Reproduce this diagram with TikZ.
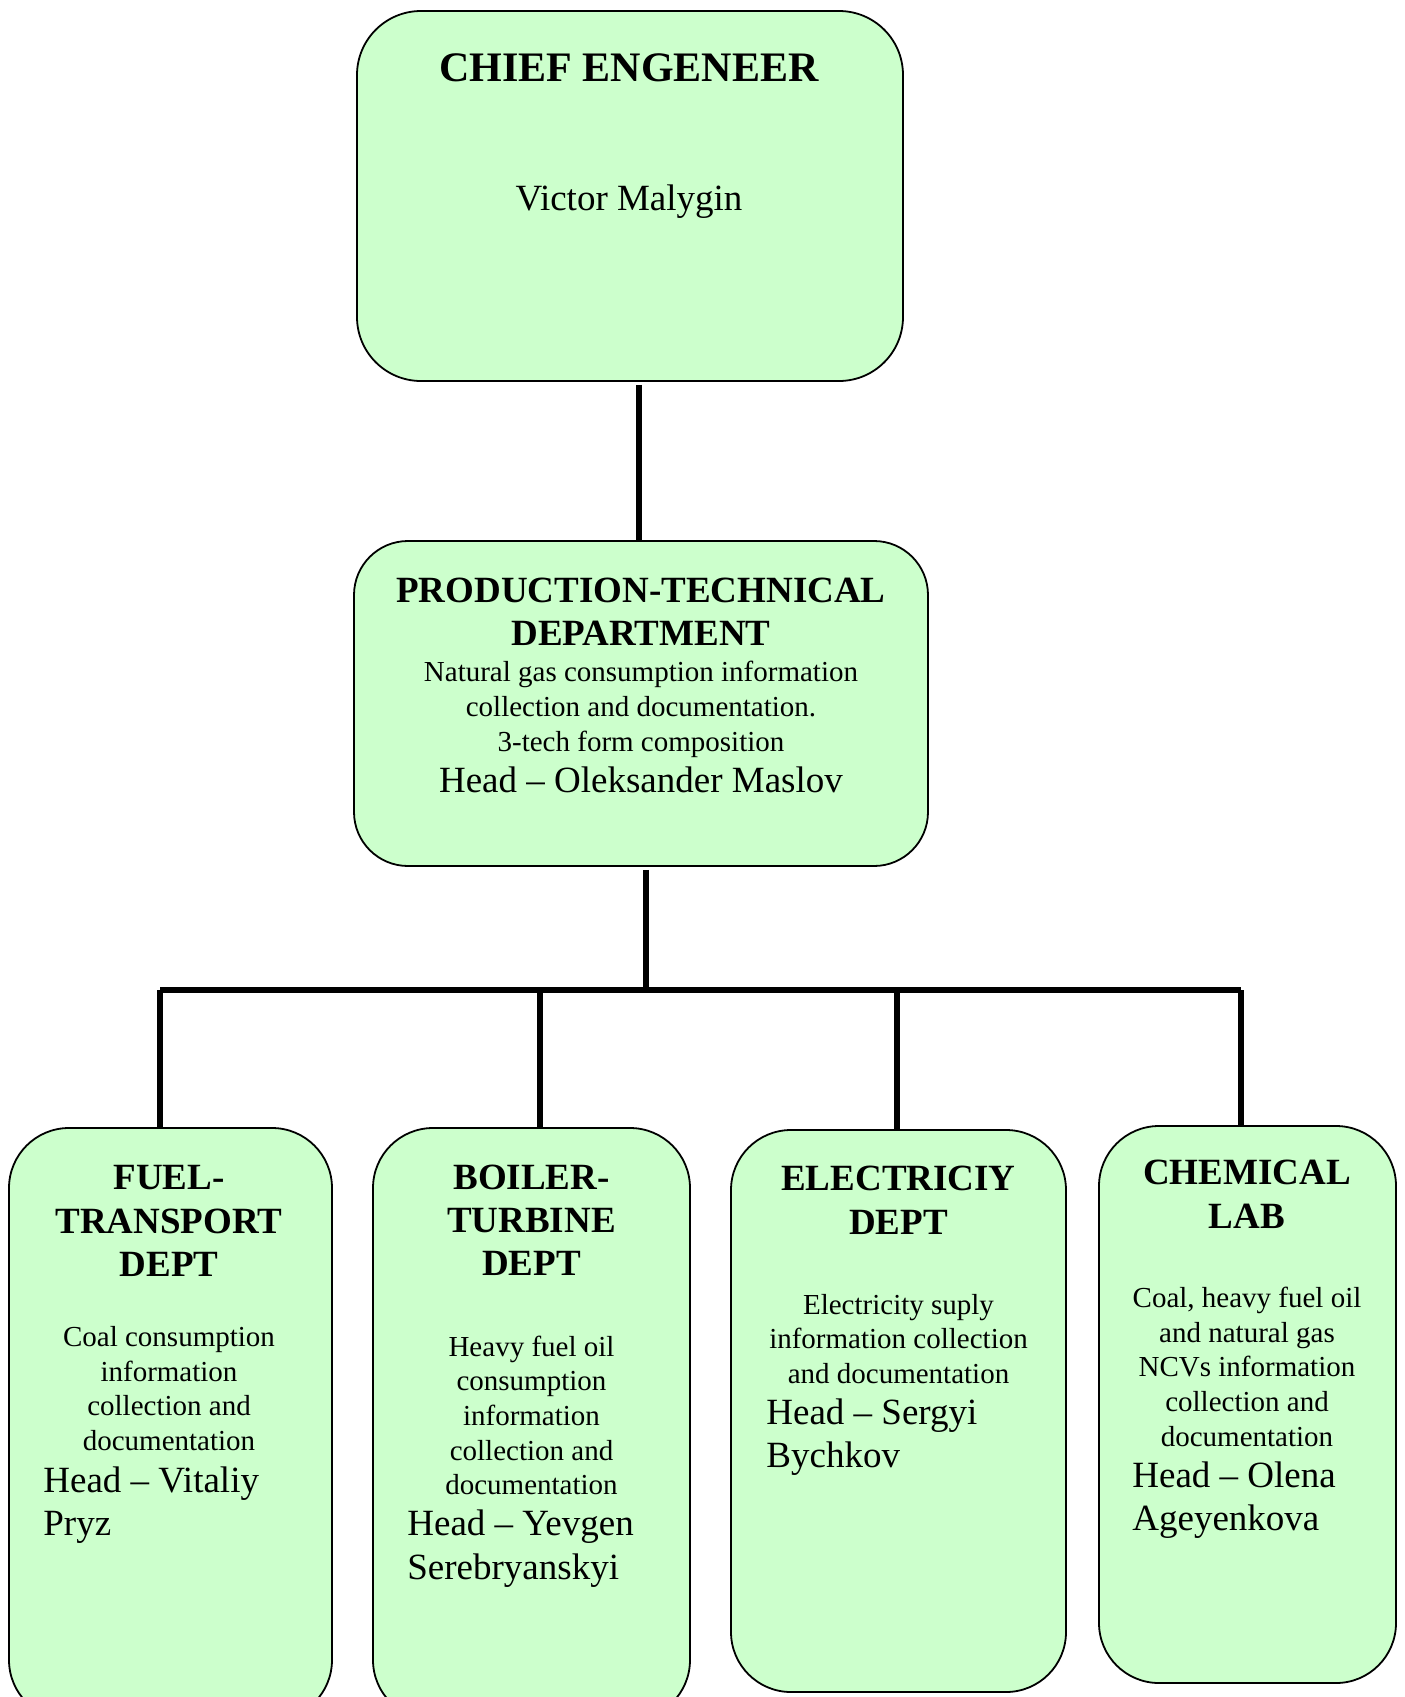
\documentclass[tikz,border=0pt]{standalone}
\usepackage{fontspec}
\setmainfont{Liberation Serif}
\definecolor{boxgreen}{HTML}{CCFFCC}
\begin{document}
\begin{tikzpicture}[x=0.5pt,y=-0.5pt,
  box/.style={draw=black, line width=0.9pt, fill=boxgreen, inner sep=0pt},
  conn/.style={draw=black, line width=2.6pt},
  ttl/.style={font=\bfseries\fontsize{18.5}{21.6}\selectfont, anchor=base, inner sep=0pt},
  bigttl/.style={font=\bfseries\fontsize{21}{25}\selectfont, anchor=base, inner sep=0pt},
  sml/.style={font=\fontsize{14.5}{17.3}\selectfont, anchor=base, inner sep=0pt},
  hdc/.style={font=\fontsize{18.5}{21.6}\selectfont, anchor=base, inner sep=0pt},
  hd/.style={font=\fontsize{18.5}{21.6}\selectfont, anchor=base west, inner sep=0pt}]
\useasboundingbox (0,0) rectangle (1404,1697);

% boxes
\node[box, rounded corners=32pt, minimum width=273pt, minimum height=185pt] (chief) at (630,196) {};
\node[box, rounded corners=27pt, minimum width=287pt, minimum height=162.5pt] (ptd) at (641,703.5) {};
\node[box, rounded corners=30pt, minimum width=161.5pt, minimum height=296pt] (b1) at (170.5,1424) {};
\node[box, rounded corners=30pt, minimum width=158.5pt, minimum height=296pt] (b2) at (531.5,1424) {};
\node[box, rounded corners=30pt, minimum width=167.5pt, minimum height=281pt] (b3) at (898.5,1411) {};
\node[box, rounded corners=30pt, minimum width=148.5pt, minimum height=278.5pt] (b4) at (1247.5,1404.5) {};

% connectors
\coordinate (up) at (639,0);
\coordinate (bus) at (646,990);
\coordinate (bL) at (160,990);
\coordinate (bR) at (1241,990);
\coordinate (d2) at (540,990);
\coordinate (d3) at (897,990);
\draw[conn] ([yshift=-1.5pt]up |- chief.south) -- (up |- ptd.north);
\draw[conn] ([yshift=-1.5pt]bus |- ptd.south) -- (bus);
\draw[conn] (bL) -- (bR);
\draw[conn] (bL) -- (bL |- b1.north);
\draw[conn] (d2) -- (d2 |- b2.north);
\draw[conn] (d3) -- (d3 |- b3.north);
\draw[conn] (bR) -- (bR |- b4.north);

% chief text
\node[bigttl] (c1) at (629,81) {CHIEF ENGENEER};
\node[hdc] (c2) at (629,210) {Victor Malygin};

% PTD text
\node[ttl] (p1) at (641,602) {PRODUCTION-TECHNICAL};
\node[ttl] (p2) at (641,645) {DEPARTMENT};
\node[sml] (p3) at (641,681) {Natural gas consumption information};
\node[sml] (p4) at (641,716) {collection and documentation.};
\node[sml] (p5) at (641,751) {3-tech form composition};
\node[hdc] (p6) at (641,792) {Head -- Oleksander Maslov};

% box 1
\node[ttl] (f1) at (169,1189) {FUEL-};
\node[ttl] (f2) at (169,1233) {TRANSPORT};
\node[ttl] (f3) at (169,1276) {DEPT};
\node[sml] (f4) at (169,1346) {Coal consumption};
\node[sml] (f5) at (169,1381) {information};
\node[sml] (f6) at (169,1415) {collection and};
\node[sml] (f7) at (169,1450) {documentation};
\node[hd] (f8) at (43,1492) {Head -- Vitaliy};
\node[hd] (f9) at (43,1535) {Pryz};

% box 2
\node[ttl] (t1) at (531.5,1189) {BOILER-};
\node[ttl] (t2) at (531.5,1232) {TURBINE};
\node[ttl] (t3) at (531.5,1275) {DEPT};
\node[sml] (t4) at (531.5,1356) {Heavy fuel oil};
\node[sml] (t5) at (531.5,1390) {consumption};
\node[sml] (t6) at (531.5,1425) {information};
\node[sml] (t7) at (531.5,1460) {collection and};
\node[sml] (t8) at (531.5,1494) {documentation};
\node[hd] (t9) at (407,1535) {Head -- Yevgen};
\node[hd] (t10) at (407,1579) {Serebryanskyi};

% box 3
\node[ttl] (e1) at (898.5,1190) {ELECTRICIY};
\node[ttl] (e2) at (898.5,1234) {DEPT};
\node[sml] (e3) at (898.5,1314) {Electricity suply};
\node[sml] (e4) at (898.5,1348) {information collection};
\node[sml] (e5) at (898.5,1383) {and documentation};
\node[hd] (e6) at (766,1424) {Head -- Sergyi};
\node[hd] (e7) at (766,1467) {Bychkov};

% box 4
\node[ttl] (l1) at (1247,1184) {CHEMICAL};
\node[ttl] (l2) at (1247,1228) {LAB};
\node[sml] (l3) at (1247,1307) {Coal, heavy fuel oil};
\node[sml] (l4) at (1247,1342) {and natural gas};
\node[sml] (l5) at (1247,1376) {NCVs information};
\node[sml] (l6) at (1247,1411) {collection and};
\node[sml] (l7) at (1247,1446) {documentation};
\node[hd] (l8) at (1132,1487) {Head -- Olena};
\node[hd] (l9) at (1132,1530) {Ageyenkova};
\end{tikzpicture}
\end{document}
